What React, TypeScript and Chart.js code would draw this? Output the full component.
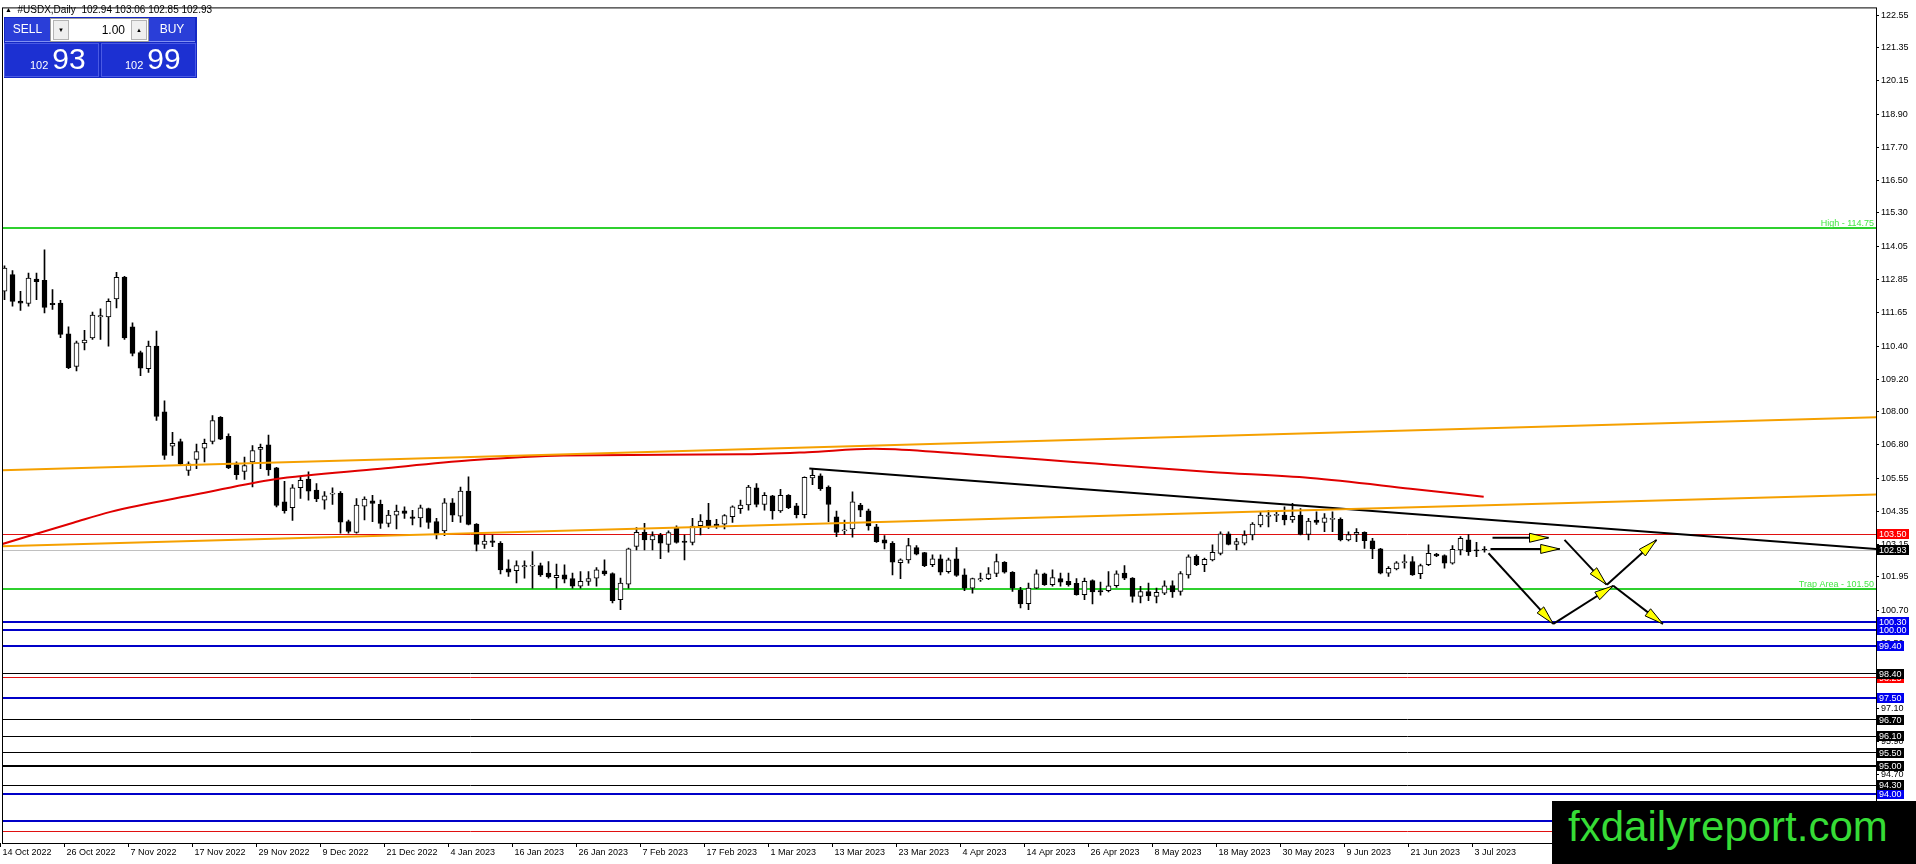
import React, { useEffect, useRef } from "react";
import { Chart, registerables } from "chart.js";

Chart.register(...registerables);

const FONT = '"Liberation Sans", Arial, sans-serif';

// ---------- axis labels ----------
const xLabels = [
  "14 Oct 2022", "26 Oct 2022", "7 Nov 2022", "17 Nov 2022", "29 Nov 2022", "9 Dec 2022",
  "21 Dec 2022", "4 Jan 2023", "16 Jan 2023", "26 Jan 2023", "7 Feb 2023", "17 Feb 2023",
  "1 Mar 2023", "13 Mar 2023", "23 Mar 2023", "4 Apr 2023", "14 Apr 2023", "26 Apr 2023",
  "8 May 2023", "18 May 2023", "30 May 2023", "9 Jun 2023", "21 Jun 2023", "3 Jul 2023",
];
const BARS_PER_LABEL = 8;

const yTickLabels = [
  "122.55", "121.35", "120.15", "118.90", "117.70", "116.50", "115.30", "114.05", "112.85",
  "111.65", "110.40", "109.20", "108.00", "106.80", "105.55", "104.35", "103.15", "101.95",
  "100.70", "99.50", "98.30", "97.10", "95.90", "94.70", "93.50",
];

// ---------- daily OHLC ----------
const openPrices = [
  112.42, 113.03, 112.06, 111.97, 112.87, 112.82, 111.98, 111.99, 110.86, 109.66,
  110.53, 110.71, 111.48, 111.48, 112.14, 112.94, 111.12, 110.17, 109.58, 110.41,
  108.00, 106.74, 106.91, 105.85, 106.25, 106.67, 106.91, 107.80, 107.10, 106.06,
  105.81, 106.16, 106.62, 106.79, 105.94, 104.70, 104.48, 105.22, 105.53, 105.13,
  104.76, 104.98, 105.01, 103.97, 103.58, 104.54, 104.73, 104.61, 103.91, 104.21,
  104.37, 104.15, 104.11, 104.45, 103.97, 103.63, 104.66, 104.17, 105.09, 103.88,
  103.14, 103.27, 103.18, 102.24, 102.17, 102.31, 102.34, 102.36, 102.08, 101.92,
  102.02, 101.88, 101.60, 101.78, 101.90, 102.17, 102.07, 101.11, 101.68, 103.06,
  103.58, 103.30, 103.48, 103.14, 103.75, 103.26, 103.21, 103.82, 104.03, 103.88,
  103.88, 104.15, 104.45, 104.58, 105.21, 104.60, 104.92, 104.36, 104.94, 104.55,
  104.23, 105.57, 105.65, 105.24, 104.15, 103.63, 103.70, 104.58, 104.37, 103.78,
  103.30, 103.18, 102.47, 102.57, 103.02, 102.84, 102.39, 102.61, 102.14, 102.61,
  102.02, 101.53, 101.83, 101.88, 102.07, 102.48, 102.11, 101.46, 100.96, 101.53,
  102.06, 101.66, 101.88, 101.78, 101.71, 101.29, 101.81, 101.44, 101.44, 101.62,
  102.08, 101.90, 101.23, 101.41, 101.23, 101.35, 101.63, 101.41, 102.02, 102.70,
  102.39, 102.57, 102.81, 103.52, 103.14, 103.18, 103.48, 103.85, 104.16, 104.20,
  104.21, 104.03, 104.21, 103.50, 104.03, 103.94, 104.05, 104.06, 103.30, 103.50,
  103.58, 103.27, 102.97, 102.08, 102.24, 102.46, 102.51, 102.06, 102.39, 102.78,
  102.73, 102.45, 102.93, 103.30, 102.94, 102.94,
];
const highPrices = [
  113.35, 113.18, 112.42, 113.09, 113.09, 113.94, 112.48, 112.09, 111.12, 110.59,
  110.99, 111.66, 111.78, 112.14, 113.11, 112.97, 111.26, 110.23, 110.59, 110.96,
  108.40, 107.25, 107.00, 106.16, 106.82, 107.00, 107.86, 107.82, 107.19, 106.16,
  106.34, 106.76, 106.82, 107.15, 105.96, 105.45, 105.33, 105.61, 105.80, 105.37,
  105.07, 105.21, 105.07, 104.03, 104.82, 104.88, 104.94, 104.76, 104.39, 104.58,
  104.51, 104.39, 104.58, 104.47, 104.09, 104.82, 104.82, 105.24, 105.61, 103.90,
  103.48, 103.48, 103.24, 102.57, 102.53, 102.53, 102.87, 102.45, 102.51, 102.41,
  102.39, 102.08, 102.14, 102.14, 102.29, 102.57, 102.09, 101.90, 103.00, 103.75,
  103.91, 103.60, 103.54, 103.63, 103.82, 103.48, 104.09, 104.23, 104.64, 104.06,
  104.23, 104.55, 104.76, 105.30, 105.37, 105.04, 104.94, 105.16, 104.96, 104.64,
  105.61, 105.89, 105.72, 105.28, 104.36, 104.03, 105.06, 104.64, 104.43, 103.87,
  103.46, 103.24, 102.61, 103.36, 103.09, 102.85, 102.75, 102.75, 102.63, 103.02,
  102.24, 101.90, 102.08, 102.29, 102.78, 102.51, 102.14, 101.56, 101.72, 102.20,
  102.08, 102.20, 102.08, 102.08, 101.88, 101.90, 101.84, 101.75, 102.14, 102.17,
  102.36, 101.92, 101.60, 101.72, 101.53, 101.80, 101.80, 102.14, 102.75, 102.75,
  102.63, 103.12, 103.60, 103.60, 103.36, 103.63, 103.94, 104.33, 104.39, 104.33,
  104.51, 104.64, 104.45, 104.09, 104.33, 104.27, 104.33, 104.11, 103.60, 103.72,
  103.60, 103.36, 102.99, 102.32, 102.51, 102.75, 102.69, 102.41, 103.12, 102.81,
  102.75, 103.09, 103.42, 103.50, 103.21, 103.06,
];
const lowPrices = [
  112.11, 111.87, 111.72, 111.87, 112.11, 111.63, 111.75, 110.72, 109.58, 109.50,
  110.27, 110.65, 110.65, 110.41, 111.81, 110.65, 110.05, 109.32, 109.44, 107.68,
  106.25, 106.40, 106.06, 105.67, 105.91, 106.16, 106.82, 106.98, 105.91, 105.52,
  105.52, 105.24, 105.91, 105.67, 104.51, 104.28, 104.02, 104.82, 104.76, 104.70,
  104.43, 104.60, 103.55, 103.55, 103.55, 104.03, 103.97, 103.72, 103.78, 103.70,
  104.09, 103.85, 103.78, 103.72, 103.34, 103.46, 103.97, 103.94, 103.85, 102.90,
  102.99, 103.05, 102.05, 101.96, 101.72, 101.90, 101.53, 101.96, 101.90, 101.53,
  101.72, 101.53, 101.53, 101.63, 101.60, 102.00, 100.99, 100.74, 101.53, 102.93,
  102.93, 102.93, 102.61, 102.85, 103.18, 102.57, 103.12, 103.48, 103.72, 103.72,
  103.70, 103.94, 104.27, 104.39, 104.51, 104.39, 104.06, 104.31, 104.45, 104.11,
  104.11, 105.33, 105.12, 103.97, 103.42, 103.50, 103.40, 104.15, 103.66, 103.21,
  102.97, 102.02, 101.88, 102.45, 102.75, 102.32, 102.32, 102.02, 102.08, 101.96,
  101.44, 101.35, 101.78, 101.84, 101.95, 102.08, 101.41, 100.81, 100.74, 101.51,
  101.63, 101.60, 101.60, 101.60, 101.27, 101.11, 100.95, 101.27, 101.39, 101.56,
  101.84, 101.02, 100.99, 101.07, 100.99, 101.29, 101.19, 101.27, 101.90, 102.36,
  102.14, 102.53, 102.75, 103.12, 102.93, 103.12, 103.30, 103.78, 103.78, 103.97,
  103.85, 103.94, 103.48, 103.30, 103.87, 103.60, 103.60, 103.26, 103.26, 103.24,
  102.99, 102.61, 102.05, 101.96, 102.20, 102.26, 102.00, 101.88, 102.36, 102.69,
  102.26, 102.41, 102.75, 102.73, 102.69, 102.85,
];
const closePrices = [
  113.27, 112.05, 111.98, 112.90, 112.77, 111.83, 111.93, 110.84, 109.62, 110.53,
  110.63, 111.55, 111.53, 112.05, 112.93, 110.71, 110.14, 109.60, 110.41, 107.83,
  106.40, 106.84, 106.09, 106.09, 106.54, 106.84, 107.68, 107.00, 105.94, 105.69,
  106.03, 106.58, 106.70, 105.87, 104.57, 104.37, 105.21, 105.49, 105.09, 104.80,
  104.92, 105.02, 103.95, 103.61, 104.58, 104.80, 104.64, 103.91, 104.21, 104.36,
  104.27, 104.09, 104.48, 103.94, 103.48, 104.66, 104.21, 105.09, 103.87, 103.14,
  103.26, 103.21, 102.20, 102.12, 102.36, 102.36, 102.36, 102.02, 101.94, 102.00,
  101.86, 101.60, 101.78, 101.88, 102.20, 102.05, 101.07, 101.72, 102.97, 103.58,
  103.30, 103.46, 103.18, 103.57, 103.21, 103.21, 103.81, 103.99, 103.82, 103.81,
  104.19, 104.51, 104.58, 105.24, 104.60, 104.94, 104.36, 104.94, 104.48, 104.23,
  105.60, 105.67, 105.18, 104.60, 103.58, 103.66, 104.70, 104.39, 103.81, 103.24,
  103.18, 102.48, 102.57, 103.09, 102.78, 102.36, 102.61, 102.12, 102.57, 102.00,
  101.53, 101.88, 101.88, 102.06, 102.51, 102.12, 101.53, 100.95, 101.53, 102.06,
  101.66, 101.92, 101.75, 101.66, 101.29, 101.78, 101.39, 101.39, 101.62, 102.06,
  101.90, 101.23, 101.41, 101.25, 101.38, 101.62, 101.39, 102.07, 102.68, 102.39,
  102.59, 102.85, 103.52, 103.14, 103.24, 103.48, 103.88, 104.21, 104.21, 104.23,
  104.03, 104.17, 103.50, 103.99, 103.94, 104.11, 104.09, 103.30, 103.50, 103.58,
  103.27, 102.97, 102.08, 102.26, 102.46, 102.51, 102.02, 102.36, 102.81, 102.71,
  102.45, 102.96, 103.36, 102.87, 102.90, 102.93,
];

// ---------- indicator / drawn lines (bar index, price) ----------
const redMaBars = [-0.5, 8.6, 13.25, 24.5, 33.6, 47, 58.25, 69.9, 92, 100.4, 108.6, 117, 125.4, 133.6, 138.25, 150.75, 163.25, 175.75, 184.9];
const redMaValues = [103.13, 103.93, 104.33, 105.0, 105.52, 105.91, 106.22, 106.4, 106.44, 106.52, 106.64, 106.52, 106.34, 106.16, 106.06, 105.79, 105.57, 105.18, 104.88];

const orangeUpperBars = [-0.5, 234];
const orangeUpperValues = [105.85, 107.8];
const orangeLowerBars = [-0.5, 234];
const orangeLowerValues = [103.07, 104.97];

const trendBars = [100.6, 234];
const trendValues = [105.92, 102.97];

// ---------- horizontal levels ----------
const levelValues = [114.75, 103.5, 102.93, 101.5, 100.3, 100.0, 99.4, 98.25, 98.4, 97.5, 96.7, 96.1, 95.5, 95.0, 94.0, 94.3, 93.0, 92.6];
const levelKinds = ["high", "red", "bid", "trap", "blue", "blue", "blue", "red", "black", "blue", "black", "black", "black", "blackBold", "blue", "black", "blue", "red"];
const levelTags = ["High - 114.75", "", "", "Trap Area - 101.50", "", "", "", "", "", "", "", "", "", "", "", "", "", ""];

// ---------- arrows (bar index, price) ----------
const arrowFromBar = [186.0, 185.75, 185.5, 193.6, 201.1, 195.0, 200.3];
const arrowFromPrice = [103.38, 102.97, 102.81, 100.22, 101.62, 103.3, 101.66];
const arrowToBar = [193.0, 194.4, 193.6, 201.1, 207.3, 200.25, 206.5];
const arrowToPrice = [103.38, 102.97, 100.22, 101.62, 100.22, 101.66, 103.3];

// ---------- trade panel ----------
const symbolName = "#USDX";
const periodName = "Daily";
const bidPrice = 102.93;
const askPrice = 102.99;
const lotSize = "1.00";

// ---------- styles ----------
const levelStyles: Record<string, { color: string; width: number; box: string | null }> = {
  high: { color: "#2fd02f", width: 2, box: null },
  trap: { color: "#2fd02f", width: 2, box: null },
  red: { color: "#e01010", width: 1, box: "#ff0000" },
  bid: { color: "#c0c0c0", width: 1, box: "#000000" },
  blue: { color: "#0000c8", width: 2, box: "#0000f0" },
  black: { color: "#000000", width: 1, box: "#000000" },
  blackBold: { color: "#000000", width: 2, box: "#000000" },
};

const X_MIN = -0.3125;
const X_MAX = 233.9375;
const Y_MAX = 122.831;
const Y_MIN = 92.185;

function splitPrice(p: number) {
  const s = p.toFixed(2);
  const [a, b] = s.split(".");
  return { big: b, small: a };
}

export default function App() {
  const ref = useRef<HTMLCanvasElement>(null);

  useEffect(() => {
    const canvas = ref.current;
    if (!canvas) return;
    const idx = openPrices.map((_, i) => i);
    const wickData = idx.map((i) => ({ x: i, y: [lowPrices[i], highPrices[i]] }));
    const bodyData = idx.map((i) => ({ x: i, y: [openPrices[i], closePrices[i]] }));
    const bodyColors = idx.map((i) => (closePrices[i] > openPrices[i] ? "#ffffff" : "#000000"));
    const yTickValues = yTickLabels.map((s) => parseFloat(s));

    const levelsPlugin = {
      id: "levels",
      beforeDatasetsDraw(chart: any) {
        const { ctx, chartArea: a, scales } = chart;
        const y = scales.y;
        ctx.save();
        ctx.beginPath();
        ctx.rect(a.left, a.top, a.right - a.left, a.bottom - a.top);
        ctx.clip();
        levelValues.forEach((v, i) => {
          const st = levelStyles[levelKinds[i]];
          const py = y.getPixelForValue(v);
          const yy = st.width % 2 ? Math.floor(py) + 0.5 : Math.round(py);
          ctx.strokeStyle = st.color;
          ctx.lineWidth = st.width;
          ctx.beginPath();
          ctx.moveTo(a.left, yy);
          ctx.lineTo(a.right, yy);
          ctx.stroke();
        });
        ctx.font = `9px ${FONT}`;
        ctx.textAlign = "right";
        ctx.textBaseline = "alphabetic";
        ctx.fillStyle = "#44e644";
        levelValues.forEach((v, i) => {
          if (!levelTags[i]) return;
          const py = y.getPixelForValue(v);
          ctx.fillText(levelTags[i], a.right - 2, Math.round(py) - 2);
        });
        ctx.restore();
      },
      afterDraw(chart: any) {
        const { ctx, chartArea: a, scales } = chart;
        const y = scales.y;
        ctx.save();
        ctx.strokeStyle = "#000";
        ctx.lineWidth = 1;
        ctx.strokeRect(a.left + 0.5, a.top + 0.5, a.right - a.left, a.bottom - a.top);
        ctx.font = `9px ${FONT}`;
        ctx.textAlign = "left";
        ctx.textBaseline = "middle";
        levelValues.forEach((v, i) => {
          const st = levelStyles[levelKinds[i]];
          if (!st.box) return;
          const py = Math.round(y.getPixelForValue(v));
          const label = v.toFixed(2);
          const tw = ctx.measureText(label).width;
          ctx.fillStyle = st.box;
          ctx.fillRect(a.right + 1, py - 5, Math.ceil(tw) + 4, 10);
          ctx.fillStyle = "#ffffff";
          ctx.fillText(label, a.right + 3, py + 0.5);
        });
        ctx.restore();
      },
    };

    const arrowsPlugin = {
      id: "arrows",
      afterDatasetsDraw(chart: any) {
        const { ctx, chartArea: a, scales } = chart;
        const xs = scales.x;
        const ys = scales.y;
        ctx.save();
        ctx.beginPath();
        ctx.rect(a.left, a.top, a.right - a.left, a.bottom - a.top);
        ctx.clip();
        arrowFromBar.forEach((_, i) => {
          const x0 = xs.getPixelForValue(arrowFromBar[i]);
          const y0 = ys.getPixelForValue(arrowFromPrice[i]);
          const x1 = xs.getPixelForValue(arrowToBar[i]);
          const y1 = ys.getPixelForValue(arrowToPrice[i]);
          ctx.strokeStyle = "#000";
          ctx.lineWidth = 2;
          ctx.beginPath();
          ctx.moveTo(x0, y0);
          ctx.lineTo(x1, y1);
          ctx.stroke();
          const ang = Math.atan2(y1 - y0, x1 - x0);
          const len = 19;
          const hw = 4.5;
          const bx = x1 - Math.cos(ang) * len;
          const by = y1 - Math.sin(ang) * len;
          const nx = -Math.sin(ang) * hw;
          const ny = Math.cos(ang) * hw;
          ctx.beginPath();
          ctx.moveTo(x1, y1);
          ctx.lineTo(bx + nx, by + ny);
          ctx.lineTo(bx - nx, by - ny);
          ctx.closePath();
          ctx.fillStyle = "#ffff00";
          ctx.fill();
          ctx.lineWidth = 1;
          ctx.strokeStyle = "#000";
          ctx.stroke();
        });
        ctx.restore();
      },
    };

    const lineDs = (bars: number[], vals: number[], color: string, extra: any = {}) => ({
      type: "line" as const,
      data: bars.map((b, i) => ({ x: b, y: vals[i] })),
      borderColor: color,
      borderWidth: 2,
      pointRadius: 0,
      fill: false,
      order: 0,
      ...extra,
    });

    const chart = new Chart(canvas, {
      type: "bar",
      data: {
        datasets: [
          {
            type: "bar",
            data: wickData as any,
            backgroundColor: "#000000",
            barThickness: 1,
            grouped: false,
            order: 3,
          },
          {
            type: "bar",
            data: bodyData as any,
            backgroundColor: bodyColors,
            borderColor: "#000000",
            borderWidth: 1,
            borderSkipped: false,
            barThickness: 5,
            minBarLength: 1,
            grouped: false,
            order: 2,
          },
          lineDs(orangeUpperBars, orangeUpperValues, "#f5a000"),
          lineDs(orangeLowerBars, orangeLowerValues, "#f5a000"),
          lineDs(redMaBars, redMaValues, "#e00000", { cubicInterpolationMode: "monotone" }),
          lineDs(trendBars, trendValues, "#000000"),
        ] as any,
      },
      options: {
        animation: false,
        responsive: false,
        devicePixelRatio: 1,
        events: [],
        layout: { padding: { left: 2, top: 3, right: 0, bottom: 0 } },
        plugins: {
          legend: { display: false },
          tooltip: { enabled: false },
          title: { display: false },
        },
        scales: {
          x: {
            type: "linear",
            position: "bottom",
            min: X_MIN,
            max: X_MAX,
            offset: false,
            grid: {
              display: true,
              drawOnChartArea: false,
              drawTicks: true,
              tickLength: 4,
              color: "#000000",
              offset: false,
            },
            border: { display: false },
            ticks: {
              autoSkip: false,
              maxRotation: 0,
              minRotation: 0,
              align: "start",
              labelOffset: 2,
              padding: 0,
              color: "#000000",
              font: { family: FONT, size: 9 },
              callback: (_v: any, i: number) => xLabels[i] ?? "",
            },
            afterBuildTicks: (s: any) => {
              s.ticks = xLabels.map((_, k) => ({ value: k * BARS_PER_LABEL - 0.5 }));
            },
            afterFit: (s: any) => {
              s.height = 21;
            },
          },
          y: {
            type: "linear",
            position: "right",
            min: Y_MIN,
            max: Y_MAX,
            beginAtZero: false,
            grid: {
              drawOnChartArea: false,
              drawTicks: true,
              tickLength: 3,
              color: "#000000",
            },
            border: { display: false },
            ticks: {
              autoSkip: false,
              padding: 2,
              color: "#000000",
              font: { family: FONT, size: 9 },
              callback: (_v: any, i: number) => yTickLabels[i] ?? "",
            },
            afterBuildTicks: (s: any) => {
              s.ticks = yTickValues.map((v) => ({ value: v }));
            },
            afterFit: (s: any) => {
              s.width = 40;
            },
          },
        },
      } as any,
      plugins: [levelsPlugin, arrowsPlugin],
    });
    return () => chart.destroy();
  }, []);

  const last = openPrices.length - 1;
  const titleText = `${symbolName},${periodName}  ${openPrices[last].toFixed(2)} ${highPrices[last].toFixed(2)} ${lowPrices[last].toFixed(2)} ${closePrices[last].toFixed(2)}`;
  const bid = splitPrice(bidPrice);
  const ask = splitPrice(askPrice);

  const btn: React.CSSProperties = {
    position: "absolute",
    top: 18,
    height: 24,
    background: "#2a3ed8",
    color: "#fff",
    font: `12px ${FONT}`,
    lineHeight: "23px",
    textAlign: "center",
    boxSizing: "border-box",
    borderBottom: "1px solid #8090f2",
  };
  const priceBox: React.CSSProperties = {
    position: "absolute",
    top: 43,
    height: 34,
    background: "#1c30d2",
    boxSizing: "border-box",
    border: "1px solid #4a5ae4",
  };
  const spinBtn: React.CSSProperties = {
    position: "absolute",
    top: 20,
    width: 16,
    height: 20,
    background: "#efefef",
    boxSizing: "border-box",
    border: "1px solid #b4b4b4",
    font: `6px ${FONT}`,
    lineHeight: "18px",
    textAlign: "center",
    color: "#000",
  };
  const priceText = (left: number, p: { big: string; small: string }) => (
    <div
      style={{
        position: "absolute",
        left,
        top: 44,
        height: 30,
        display: "flex",
        alignItems: "baseline",
        color: "#fff",
        fontFamily: FONT,
        lineHeight: "30px",
      }}
    >
      <span style={{ fontSize: 11, marginRight: 4 }}>{p.small}</span>
      <span style={{ fontSize: 30 }}>{p.big}</span>
    </div>
  );

  return (
    <div
      style={{
        position: "fixed",
        left: 0,
        top: 0,
        width: 1916,
        height: 864,
        background: "#ffffff",
        overflow: "hidden",
      }}
    >
      <canvas
        ref={ref}
        width={1916}
        height={864}
        style={{ position: "absolute", left: 0, top: 0, width: 1916, height: 864, display: "block" }}
      />
      <div
        style={{
          position: "absolute",
          left: 5,
          top: 4,
          font: `10px ${FONT}`,
          lineHeight: "12px",
          whiteSpace: "pre",
          color: "#000",
        }}
      >
        <span style={{ fontSize: 7, position: "relative", top: -1 }}>▲</span>
        {"  " + titleText}
      </div>
      <div style={{ position: "absolute", left: 4, top: 17, width: 193, height: 61, background: "#1428c4" }} />
      <div style={{ ...btn, left: 5, width: 45 }}>SELL</div>
      <div
        style={{
          position: "absolute",
          left: 50,
          top: 18,
          width: 99,
          height: 24,
          background: "#ffffff",
          boxSizing: "border-box",
          border: "1px solid #9a9a9a",
        }}
      />
      <div style={{ ...spinBtn, left: 53 }}>▼</div>
      <div
        style={{
          position: "absolute",
          left: 70,
          top: 18,
          width: 55,
          height: 24,
          font: `12px ${FONT}`,
          lineHeight: "24px",
          textAlign: "right",
          color: "#000",
        }}
      >
        {lotSize}
      </div>
      <div style={{ ...spinBtn, left: 131 }}>▲</div>
      <div style={{ ...btn, left: 149, width: 46 }}>BUY</div>
      <div style={{ ...priceBox, left: 4, width: 95 }} />
      <div style={{ ...priceBox, left: 101, width: 95 }} />
      {priceText(30, bid)}
      {priceText(125, ask)}
      <div
        style={{
          position: "absolute",
          left: 1552,
          top: 801,
          width: 364,
          height: 63,
          background: "#000000",
        }}
      />
      <div
        style={{
          position: "absolute",
          left: 1568,
          top: 806,
          font: `42px ${FONT}`,
          lineHeight: "42px",
          color: "#36dc36",
          whiteSpace: "nowrap",
        }}
      >
        fxdailyreport.com
      </div>
    </div>
  );
}
